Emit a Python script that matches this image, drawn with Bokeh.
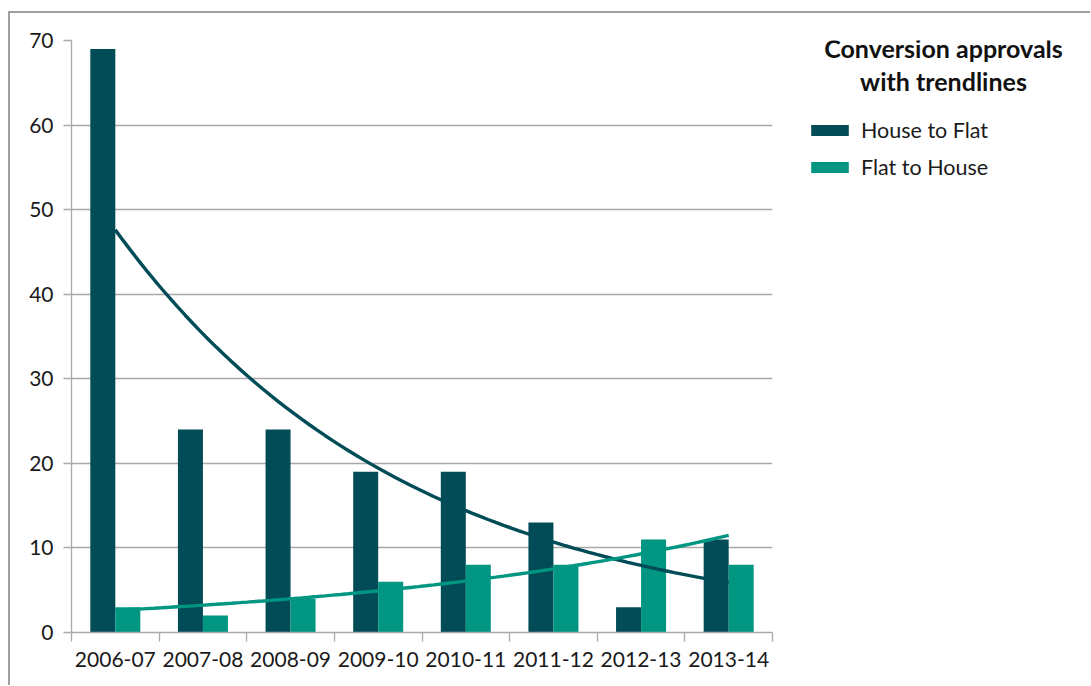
import numpy as np
from bokeh.plotting import figure
from bokeh.layouts import row
from bokeh.models import (Range1d, LinearAxis, FixedTicker, ColumnDataSource, Legend,
                          LegendItem, Label)
from bokeh.embed import file_html
from bokeh.resources import INLINE

# ---- data ----
years = ["2006-07", "2007-08", "2008-09", "2009-10", "2010-11", "2011-12", "2012-13", "2013-14"]
house_to_flat = [69, 24, 24, 19, 19, 13, 3, 11]
flat_to_house = [3, 2, 4, 6, 8, 8, 11, 8]
y_ticks = [0, 10, 20, 30, 40, 50, 60, 70]
legend_title = ["Conversion approvals", "with trendlines"]
series_names = ["House to Flat", "Flat to House"]

DARK = "#024C57"
TEAL = "#009682"
GRID = "#a9a9a9"
FONT = "Lato"

n = len(years)
centers = np.arange(n) + 0.5          # category centres on a 0..n axis
bw = 0.2854
src = ColumnDataSource(dict(xh=centers - bw / 2, xf=centers + bw / 2,
                            hf=house_to_flat, fh=flat_to_house))

p = figure(width=780, height=672, x_range=Range1d(0, n), y_range=Range1d(0, 70),
           output_backend="svg", toolbar_location=None, x_axis_location=None,
           min_border_left=61, min_border_top=27, min_border_right=18, min_border_bottom=53)
p.outline_line_color = None

r1 = p.vbar(x="xh", top="hf", width=bw, source=src, fill_color=DARK, line_color=None)
r2 = p.vbar(x="xf", top="fh", width=bw, source=src, fill_color=TEAL, line_color=None)

# exponential trendlines (least squares on log values, as a spreadsheet does)
xs = np.linspace(centers[0], centers[-1], 80)
for vals, col in ((house_to_flat, DARK), (flat_to_house, TEAL)):
    b, a = np.polyfit(centers, np.log(vals), 1)
    p.line(xs, np.exp(a + b * xs), line_color=col, line_width=3.4)

# y axis
p.yaxis.ticker = FixedTicker(ticks=y_ticks)
p.yaxis.minor_tick_line_color = None
p.yaxis.major_tick_in = 0
p.yaxis.major_tick_out = 8
p.yaxis.axis_line_color = GRID
p.yaxis.major_tick_line_color = GRID
p.yaxis.major_label_text_font = FONT
p.yaxis.major_label_text_font_size = "21px"
p.yaxis.major_label_text_color = "#1a1a1a"
p.yaxis.major_label_standoff = 10
p.yaxis.axis_line_width = 1.3
p.yaxis.major_tick_line_width = 1.3

p.ygrid.grid_line_color = GRID
p.ygrid.grid_line_width = 1.5
p.xgrid.grid_line_color = None

# x axis: ticks at category boundaries, labels at centres
tick_axis = LinearAxis(ticker=FixedTicker(ticks=list(range(n + 1))),
                       major_label_overrides={i: "" for i in range(n + 1)},
                       major_label_text_font_size="1px", major_label_standoff=0,
                       major_tick_in=0, major_tick_out=9, minor_tick_line_color=None,
                       axis_line_color=GRID, major_tick_line_color=GRID,
                       axis_line_width=1.3, major_tick_line_width=1.3)
p.add_layout(tick_axis, "below")
label_axis = LinearAxis(ticker=FixedTicker(ticks=list(centers)),
                        major_label_overrides={float(c): y for c, y in zip(centers, years)},
                        axis_line_color=None, major_tick_line_color=None,
                        minor_tick_line_color=None,
                        major_label_text_font=FONT, major_label_text_font_size="21px",
                        major_label_text_color="#1a1a1a", major_label_standoff=4)
p.add_layout(label_axis, "below")

# ---- legend panel (its frame is aligned with the chart's frame; page-pixel coordinates) ----
q = figure(width=300, height=672, x_range=Range1d(790, 1090), y_range=Range1d(632, 40),
           output_backend="svg", toolbar_location=None, x_axis_location=None,
           y_axis_location=None, min_border_left=0, min_border_right=0,
           min_border_top=27, min_border_bottom=53)
q.outline_line_color = None
q.grid.visible = False
offscreen = ColumnDataSource(dict(x=[-5000], top=[0]))
g1 = q.vbar(x="x", top="top", width=1, source=offscreen, fill_color=DARK, line_color=None)
g2 = q.vbar(x="x", top="top", width=1, source=offscreen, fill_color=TEAL, line_color=None)

legend = Legend(items=[LegendItem(label=series_names[0], renderers=[g1]),
                       LegendItem(label=series_names[1], renderers=[g2])],
                location=(16, 452), orientation="vertical",
                glyph_width=47, glyph_height=14, label_standoff=8,
                label_text_font=FONT, label_text_font_size="21.5px",
                label_text_color="#1a1a1a", spacing=11, padding=0, margin=0,
                border_line_color=None, background_fill_alpha=0)
q.add_layout(legend, "center")

for t, yy in zip(legend_title, [47, 80]):
    q.add_layout(Label(x=943, y=yy, text=t, text_font=FONT, text_font_style="bold",
                       text_font_size="25px", text_align="center", text_baseline="middle",
                       text_color="#111111"))

lay = row(p, q, spacing=0)
lay.margin = (11, 0, 0, 8)
lay.styles = {"border-top": "2px solid #a0a0a0", "border-left": "2px solid #a0a0a0"}

open("out.html", "w").write(file_html(lay, INLINE))
